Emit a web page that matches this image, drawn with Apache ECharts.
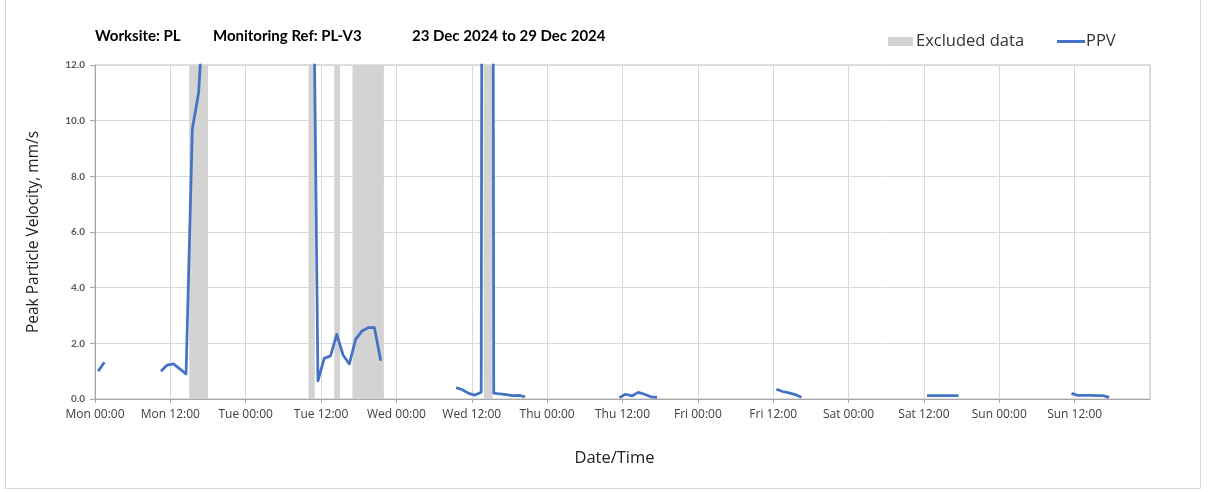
<!DOCTYPE html>
<html>
<head>
<meta charset="utf-8">
<script src="https://cdn.jsdelivr.net/npm/echarts@6/dist/echarts.min.js"></script>
<style>
  html, body { margin: 0; padding: 0; background: #fff; }
  #frame { position: absolute; left: 5px; top: -1px; width: 1194px; height: 488px; border: 1px solid #d9d9d9; }
  #chart { position: absolute; left: 0; top: 0; width: 1208px; height: 492px; }
</style>
</head>
<body>
<div id="frame"></div>
<div id="chart"></div>
<script>
// ---- Data (hours since Mon 00:00, 23 Dec 2024) ----
const dayNames = ['Mon', 'Tue', 'Wed', 'Thu', 'Fri', 'Sat', 'Sun'];
const xTickLabels = ['Mon 00:00','Mon 12:00','Tue 00:00','Tue 12:00','Wed 00:00','Wed 12:00','Thu 00:00','Thu 12:00','Fri 00:00','Fri 12:00','Sat 00:00','Sat 12:00','Sun 00:00','Sun 12:00'];
const yTickValues = [0, 2, 4, 6, 8, 10, 12];

const ppvHours = [
  0.5, 1.5, 6,
  10.5, 11.5, 12.5, 13.5, 14.5, 15.5, 16.5, 17.5, 26,
  34.5, 35.5, 36.5, 37.5, 38.5, 39.5, 40.5, 41.5, 42.5, 43.5, 44.5, 45.5, 51,
  57.5, 58.5, 59.5, 60.5, 61.5, 62.5, 63.5, 64.5, 65.5, 66.5, 67.5, 68.5, 76,
  83.5, 84.5, 85.5, 86.5, 87.5, 88.5, 89.5, 99,
  108.5, 109.5, 110.5, 111.5, 112.5, 122,
  132.5, 133.5, 134.5, 135.5, 136.5, 137.5, 146,
  155.5, 156.5, 157.5, 158.5, 159.5, 160.5, 161.5
];
const ppvValues = [
  1.0, 1.32, null,
  1.0, 1.22, 1.26, 1.08, 0.9, 9.7, 11.0, 14.8, null,
  22.0, 0.65, 1.46, 1.55, 2.32, 1.58, 1.26, 2.14, 2.44, 2.56, 2.56, 1.37, null,
  0.41, 0.33, 0.2, 0.14, 0.24, 150, 0.21, 0.18, 0.16, 0.12, 0.13, 0.08, null,
  0.05, 0.17, 0.11, 0.24, 0.17, 0.08, 0.06, null,
  0.35, 0.27, 0.22, 0.16, 0.06, null,
  0.12, 0.12, 0.12, 0.12, 0.12, 0.12, null,
  0.2, 0.13, 0.13, 0.13, 0.12, 0.12, 0.06
];

const excludedStart = [15, 34, 38.1, 41, 61.9];
const excludedEnd   = [18, 35, 39, 46, 63.3];

// ---- Chart ----
const chart = echarts.init(document.getElementById('chart'), null, { renderer: 'canvas' });
const titleFont = 'Lato, "Open Sans", sans-serif';
const bodyFont = '"Open Sans", Lato, sans-serif';

const ppvData = ppvHours.map((h, i) => [h, ppvValues[i] === null ? '-' : ppvValues[i]]);
const bandData = excludedStart.map((s, i) => [{ xAxis: s }, { xAxis: excludedEnd[i] }]);
const titleStyle = { fontFamily: titleFont, fontSize: 15, fontWeight: 'bold', color: '#000' };

chart.setOption({
  animation: false,
  textStyle: { fontFamily: bodyFont },
  title: [
    { text: 'Worksite: PL', left: 95, top: 29, padding: 0, textStyle: titleStyle },
    { text: 'Monitoring Ref: PL-V3', left: 213, top: 29, padding: 0, textStyle: titleStyle },
    { text: '23 Dec 2024 to 29 Dec 2024', left: 412, top: 29, padding: 0, textStyle: titleStyle }
  ],
  legend: [
    {
      left: 888, top: 33, padding: 0, itemWidth: 25, itemHeight: 9,
      data: [{ name: 'Excluded data', icon: 'rect' }],
      textStyle: { fontFamily: bodyFont, fontSize: 16.5, color: '#333', padding: [0, 0, 0, -2] },
      selectedMode: false
    },
    {
      left: 1057, top: 33, padding: 0, itemWidth: 28, itemHeight: 3,
      data: [{ name: 'PPV', icon: 'rect' }],
      textStyle: { fontFamily: bodyFont, fontSize: 16.5, color: '#333', padding: [0, 0, 0, -4] },
      selectedMode: false
    }
  ],
  grid: {
    left: 95, right: 58, top: 65, bottom: 93,
    show: true, borderColor: '#bfbfbf', borderWidth: 1, backgroundColor: 'transparent'
  },
  xAxis: {
    type: 'value', min: 0, max: 168, interval: 12,
    name: 'Date/Time', nameLocation: 'middle', nameGap: 51,
    nameTextStyle: { fontFamily: bodyFont, fontSize: 16.5, color: '#222', padding: [0, 16, 0, 0] },
    axisLine: { show: true, lineStyle: { color: '#a6a6a6', width: 1 } },
    axisTick: { show: true, length: 4, lineStyle: { color: '#a6a6a6' } },
    axisLabel: {
      showMaxLabel: false, margin: 10, fontSize: 12, color: '#404040', fontFamily: bodyFont,
      formatter: v => xTickLabels[Math.round(v / 12)] || ''
    },
    splitLine: { show: true, lineStyle: { color: '#d9d9d9', width: 1 } }
  },
  yAxis: {
    type: 'value', min: 0, max: 12, interval: 2,
    name: 'Peak Particle Velocity, mm/s', nameLocation: 'middle', nameGap: 53, nameRotate: 90,
    nameTextStyle: { fontFamily: bodyFont, fontSize: 15.5, color: '#222' },
    axisLine: { show: true, lineStyle: { color: '#a6a6a6', width: 1 } },
    axisTick: { show: true, length: 5, lineStyle: { color: '#a6a6a6' } },
    axisLabel: {
      margin: 10, fontSize: 10, fontWeight: 'bold', color: '#595959', fontFamily: titleFont,
      formatter: v => (yTickValues.indexOf(v) >= 0 ? v.toFixed(1) : '')
    },
    splitLine: { show: true, lineStyle: { color: '#d9d9d9', width: 1 } }
  },
  series: [
    {
      name: 'Excluded data', type: 'line', data: [],
      itemStyle: { color: '#d3d3d3' }, lineStyle: { color: '#d3d3d3' },
      z: 1,
      markArea: { silent: true, itemStyle: { color: '#d3d3d3', opacity: 1 }, data: bandData }
    },
    {
      name: 'PPV', type: 'line', data: ppvData,
      showSymbol: false, symbol: 'none', connectNulls: false, clip: true,
      itemStyle: { color: '#4472C4' },
      lineStyle: { color: '#4472C4', width: 2.75, join: 'round' },
      z: 3
    }
  ]
});
</script>
</body>
</html>
